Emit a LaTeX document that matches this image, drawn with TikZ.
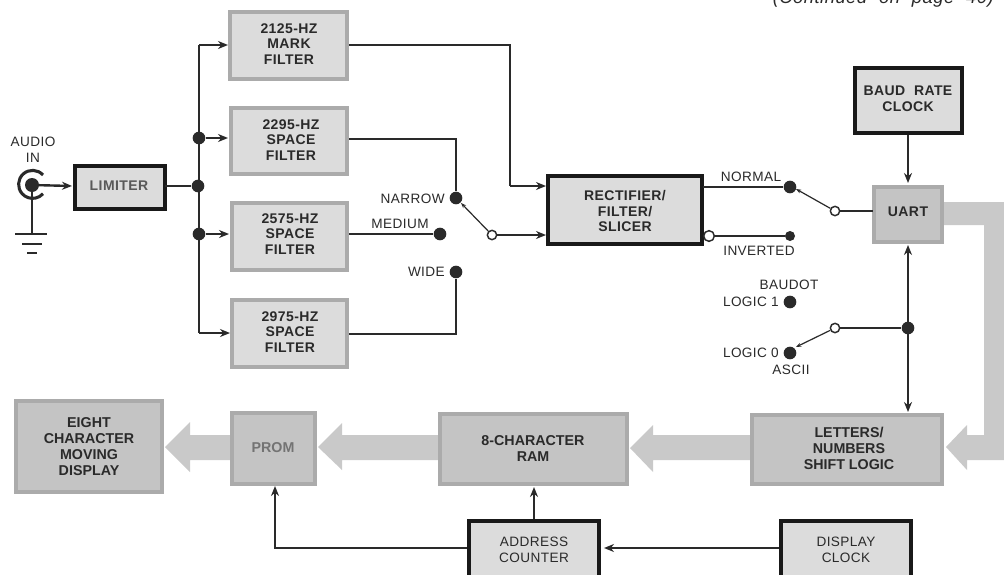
\documentclass[tikz,border=0pt]{standalone}
\usepackage{fontspec}
\setmainfont{Liberation Sans}
\newfontfamily\spacedfont[LetterSpace=3]{Liberation Sans}
\usetikzlibrary{arrows.meta}
\definecolor{lightbox}{HTML}{DCDCDC}
\definecolor{lightedge}{HTML}{ABABAB}
\definecolor{darkbox}{HTML}{C4C4C4}
\definecolor{bandgray}{HTML}{C9C9C9}
\definecolor{ink}{HTML}{2A2A2A}
\tikzset{
  x=0.75pt,y=-0.75pt,
  lbl/.style={font=\spacedfont\fontsize{10.2pt}{11.7pt}\selectfont,text=ink,align=center,inner sep=0pt},
  blbl/.style={font=\spacedfont\fontsize{10.5pt}{11.7pt}\selectfont\bfseries,text=ink,align=center,inner sep=0pt},
  dlbl/.style={font=\fontsize{10.7pt}{12pt}\selectfont\bfseries,text=ink,align=center,inner sep=0pt},
  softbox/.style={draw=lightedge,line width=2.6pt,fill=lightbox,inner sep=0pt},
  hardbox/.style={draw=black!90,line width=3pt,fill=lightbox,inner sep=0pt},
  wire/.style={draw=ink,line width=1.8pt},
  arr/.style={wire,-{Stealth[length=7.5pt,width=6pt]}},
  dotn/.style={circle,fill=ink,draw=none,minimum size=9.5pt,inner sep=0pt},
  opn/.style={circle,fill=white,draw=ink,line width=1.1pt,minimum size=7pt,inner sep=0pt},
  lever/.style={draw=ink,line width=0.9pt},
  band/.style={fill=bandgray,draw=none},
}
\newcommand{\boxat}[6]{% name, style, x1, y1, x2, y2
  \path[#2] (#3,#4) rectangle (#5,#6);
  \coordinate (#1) at ({(#3+#5)/2},{(#4+#6)/2});
}
\begin{document}
\begin{tikzpicture}
\useasboundingbox (0,0) rectangle (1004,575);
\clip (0,0) rectangle (1004,575);
\fill[white] (0,0) rectangle (1004,575);

% wide bus arrows
\path[band] (943,202) -- (1004,202) -- (1004,460) -- (967,460) -- (967,470) -- (946,447) -- (967,425) -- (967,435) -- (984,435) -- (984,225) -- (943,225) -- cycle;
\path[band] (751,435) -- (653,435) -- (653,425) -- (630,448) -- (653,472) -- (653,460) -- (751,460) -- cycle;
\path[band] (439,435) -- (342,435) -- (342,423) -- (318,447) -- (342,470) -- (342,460) -- (439,460) -- cycle;
\path[band] (231,435) -- (190,435) -- (190,422) -- (165,447) -- (190,472) -- (190,460) -- (231,460) -- cycle;

% blocks
\boxat{mark}{softbox}{230}{12}{347}{79}
\boxat{sa}{softbox}{231}{108}{347}{174}
\boxat{sb}{softbox}{232}{203}{347}{270}
\boxat{sc}{softbox}{232}{300}{347}{367}
\boxat{lim}{hardbox}{75}{166}{165}{209}
\boxat{rect}{hardbox}{548}{176}{702}{244}
\boxat{baud}{hardbox}{855}{68}{962}{133}
\boxat{uart}{softbox,fill=darkbox}{874}{187}{942}{242}
\boxat{disp}{softbox,fill=darkbox}{16}{401}{162}{492}
\boxat{prom}{softbox,fill=darkbox}{232}{413}{315}{484}
\boxat{ram}{softbox,fill=darkbox}{440}{414}{627}{484}
\boxat{shift}{softbox,fill=darkbox}{752}{415}{942}{484}
\boxat{addr}{hardbox}{469}{521}{599}{590}
\boxat{dclk}{hardbox}{781}{521}{911}{590}

% block labels
\node[blbl] (tmark) at (289,44) {2125-HZ\\MARK\\FILTER};
\node[blbl] (tsa) at (291,140) {2295-HZ\\SPACE\\FILTER};
\node[blbl] (tsb) at (290,234) {2575-HZ\\SPACE\\FILTER};
\node[blbl] (tsc) at (290,332) {2975-HZ\\SPACE\\FILTER};
\node[blbl,text=black!65] (tlim) at (119,186) {LIMITER};
\node[blbl] (trect) at (625,211) {RECTIFIER/\\FILTER/\\SLICER};
\node[blbl] (tbaud) at (908,99) {\spaceskip=6.5pt BAUD RATE\\CLOCK};
\node[blbl] (tuart) at (908,212) {UART};
\node[dlbl] (tdisp) at (89,447) {EIGHT\\CHARACTER\\MOVING\\DISPLAY};
\node[dlbl,text=black!55] (tprom) at (273,448) {PROM};
\node[dlbl] (tram) at (533,449) {8-CHARACTER\\RAM};
\node[dlbl] (tshift) at (849,448) {LETTERS/\\NUMBERS\\SHIFT LOGIC};
\node[lbl] (taddr) at (534,550) {ADDRESS\\COUNTER};
\node[lbl] (tdclk) at (846,550) {DISPLAY\\CLOCK};

% free labels
\node[lbl] (taudio) at (33,150) {AUDIO\\IN};
\node[lbl,anchor=east] (tnarrow) at (445,199) {NARROW};
\node[lbl] (tmedium) at (400,224) {MEDIUM};
\node[lbl,anchor=east] (twide) at (445,272) {WIDE};
\node[lbl] (tnormal) at (751,177) {NORMAL};
\node[lbl] (tinv) at (759,251) {INVERTED};
\node[lbl] (tbaudot) at (789,285) {BAUDOT};
\node[lbl,anchor=east] (tl1) at (779,302) {LOGIC 1};
\node[lbl,anchor=east] (tl0) at (779,353) {LOGIC 0};
\node[lbl] (tascii) at (791,370) {ASCII};
\node[font=\spacedfont\fontsize{13.7pt}{14pt}\selectfont\itshape,text=ink,inner sep=0pt,anchor=base east] (tcont) at (994,3) {\spaceskip=9pt (Continued on page 40)};

% jack and ground
\coordinate (jack) at (32,185);
\draw[ink,line width=2.3pt] (43,175) arc[start angle=-42,end angle=-318,radius=14] ;
\node[dotn,minimum size=10.5pt] (jackdot) at (jack) {};
\coordinate (gnd) at (32,234);
\draw[wire] (jack) -- (gnd);
\draw[ink,line width=1.8pt] (15,234) -- (47,234);
\draw[ink,line width=1.6pt] (22,244) -- (42,244);
\draw[ink,line width=2.2pt] (27,253) -- (37,253);
\draw[arr] (jack) -- (72,186);

% distribution
\coordinate (t0) at (199,45);
\coordinate (t3) at (199,333);
\node[dotn] (j1) at (199,138) {};
\node[dotn] (j2) at (199,234) {};
\node[dotn] (j3) at (198,186) {};
\draw[wire] (165,186) -- (j3);
\draw[wire] (t0) -- (t3);
\draw[arr] (t0) -- (228,45);
\draw[arr] (j1) -- (228,138);
\draw[arr] (j2) -- (229,234);
\draw[arr] (t3) -- (230,333);

% filter outputs
\node[dotn] (narrow) at (456,198) {};
\node[dotn] (medium) at (440,234) {};
\node[dotn] (wide) at (456,272) {};
\node[opn] (sw1) at (492,235) {};
\draw[wire] (349,45) -- (510,45) -- (510,186);
\draw[arr] (510,186) -- (546,186);
\draw[wire] (349,139) -- (456,139) -- (narrow);
\draw[wire] (349,234) -- (medium);
\draw[wire] (349,334) -- (456,334) -- (wide);
\draw[lever,-{Stealth[length=4pt,width=3pt]}] (sw1) -- (461,203);
\draw[arr] (sw1) -- (546,235);

% output switch
\node[dotn] (normal) at (790,187) {};
\node[dotn,minimum size=7.5pt] (inv) at (790,236) {};
\node[opn] (sw2) at (835,211) {};
\node[opn,minimum size=8pt] (invo) at (709,236) {};
\draw[wire] (703,187) -- (normal);
\draw[wire] (invo) -- (inv);
\draw[lever,-{Stealth[length=4pt,width=3pt]}] (sw2) -- (796,189);
\draw[wire] (sw2) -- (873,211);

% clock
\draw[arr] (908,135) -- (908,183);

% mode switch
\node[dotn] (logic1) at (790,302) {};
\node[dotn] (logic0) at (790,353) {};
\node[opn] (sw3) at (835,328) {};
\node[dotn] (j4) at (908,328) {};
\draw[wire] (sw3) -- (j4);
\draw[lever,-{Stealth[length=4pt,width=3pt]}] (sw3) -- (796,347);
\draw[wire,{Stealth[length=7.5pt,width=6pt]}-{Stealth[length=7.5pt,width=6pt]}] (908,245) -- (908,412);

% bottom control lines
\draw[wire,-{Stealth[length=7.5pt,width=6pt]}] (467,548) -- (275,548) -- (275,486);
\draw[arr] (534,519) -- (534,487);
\draw[arr] (779,548) -- (604,548);
\end{tikzpicture}
\end{document}
